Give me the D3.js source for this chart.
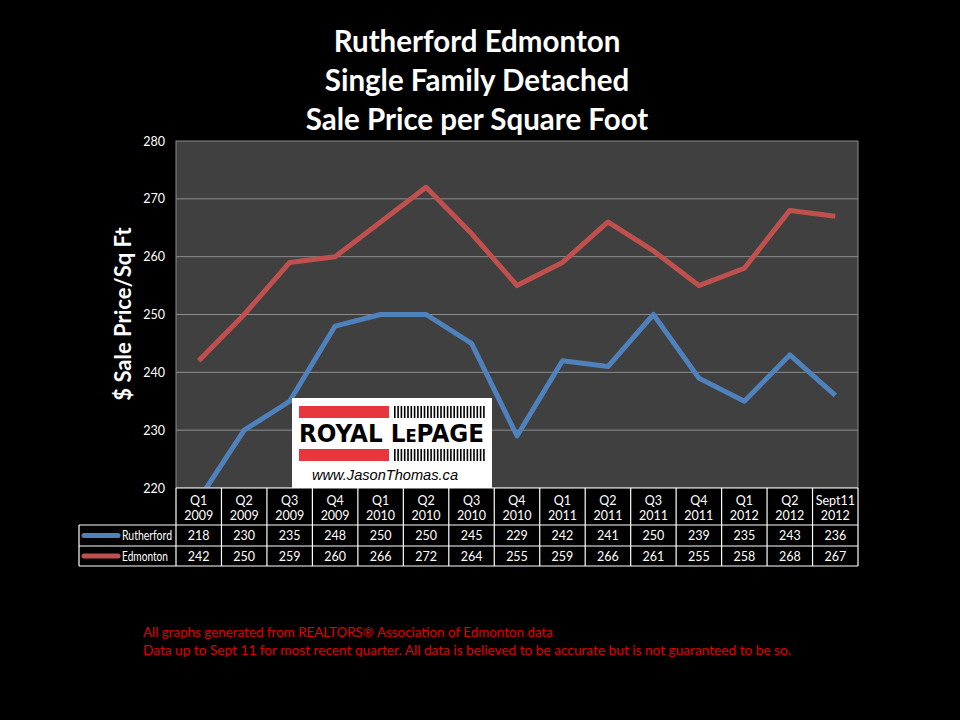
<!DOCTYPE html>
<meta charset="utf-8">
<style>
    body { margin: 0; background: #000; }
    text { font-family: Lato, "Open Sans", sans-serif; }
</style>
<svg width="960" height="720"></svg>
<script src="https://d3js.org/d3.v7.min.js"></script>
<script>

var quarters = ["Q1", "Q2", "Q3", "Q4", "Q1", "Q2", "Q3", "Q4", "Q1", "Q2", "Q3", "Q4", "Q1", "Q2", "Sept11"];
var years = ["2009", "2009", "2009", "2009", "2010", "2010", "2010", "2010", "2011", "2011", "2011", "2011", "2012", "2012", "2012"];
var rutherford = [218, 230, 235, 248, 250, 250, 245, 229, 242, 241, 250, 239, 235, 243, 236];
var edmonton = [242, 250, 259, 260, 266, 272, 264, 255, 259, 266, 261, 255, 258, 268, 267];
var yTicks = [220, 230, 240, 250, 260, 270, 280];
var titleLines = ["Rutherford Edmonton", "Single Family Detached", "Sale Price per Square Foot"];
var footLines = [
    "All graphs generated from REALTORS\u00AE Association of Edmonton data",
    "Data up to Sept 11 for most recent quarter. All data is believed to be accurate but is not guaranteed to be so."
];
var footWidths = [410, 648];

var series = [
    { name: "Rutherford", values: rutherford, color: "#4f81bd" },
    { name: "Edmonton", values: edmonton, color: "#c0504d" }
];

var svg = d3.select("svg");
svg.append("rect").attr("width", 960).attr("height", 720).attr("fill", "#000");

var plotLeft = 176, plotRight = 858, plotTop = 141, plotBottom = 488;
var cats = quarters.map(function(q, i) { return i; });

var x = d3.scaleBand().domain(cats).range([plotLeft, plotRight]);
var y = d3.scaleLinear().domain([220, 280]).range([plotBottom, plotTop]);

// title
svg.append("g").selectAll("text")
    .data(titleLines)
    .enter().append("text")
    .attr("x", 477)
    .attr("y", function(d, i) { return 52 + i * 39; })
    .attr("text-anchor", "middle")
    .attr("fill", "#fff")
    .attr("font-size", 29.5)
    .attr("font-weight", "bold")
    .text(function(d) { return d; });

// plot area
svg.append("rect")
    .attr("x", plotLeft).attr("y", plotTop)
    .attr("width", plotRight - plotLeft).attr("height", plotBottom - plotTop)
    .attr("fill", "#404040")
    .attr("stroke", "#8c8c8c");

svg.append("g").selectAll("line")
    .data(yTicks.slice(1, -1))
    .enter().append("line")
    .attr("x1", plotLeft).attr("x2", plotRight)
    .attr("y1", function(d) { return y(d); })
    .attr("y2", function(d) { return y(d); })
    .attr("stroke", "#8c8c8c");

var yAxis = svg.append("g")
    .attr("transform", "translate(" + plotLeft + ",0)")
    .call(d3.axisLeft(y).tickValues(yTicks).tickSize(0).tickPadding(11));
yAxis.select(".domain").remove();
yAxis.selectAll("text")
    .attr("fill", "#fff")
    .attr("font-size", 12.5)
    .style("font-family", "Lato, sans-serif");

svg.append("text")
    .attr("transform", "translate(131," + 314 + ") rotate(-90)")
    .attr("text-anchor", "middle")
    .attr("fill", "#fff")
    .attr("font-size", 22)
    .attr("font-weight", "bold")
    .text("$ Sale Price/Sq Ft");

// lines
svg.append("clipPath").attr("id", "plotclip")
    .append("rect")
    .attr("x", plotLeft).attr("y", plotTop)
    .attr("width", plotRight - plotLeft).attr("height", plotBottom - plotTop);

var line = d3.line()
    .x(function(d, i) { return x(i) + x.bandwidth() / 2; })
    .y(function(d) { return y(d); });

svg.append("g").attr("clip-path", "url(#plotclip)")
    .selectAll("path")
    .data(series.slice().reverse())
    .enter().append("path")
    .attr("d", function(d) { return line(d.values); })
    .attr("fill", "none")
    .attr("stroke", function(d) { return d.color; })
    .attr("stroke-width", 5)
    .attr("stroke-linejoin", "round");

// logo
var logo = svg.append("g");
logo.append("rect")
    .attr("x", 292).attr("y", 398).attr("width", 200).attr("height", 92)
    .attr("fill", "#fff");
[406, 449].forEach(function(by) {
    logo.append("rect")
        .attr("x", 299).attr("y", by).attr("width", 90).attr("height", 12)
        .attr("fill", "#e8363f");
    logo.append("g").selectAll("rect")
        .data(d3.range(0, 90, 3.3))
        .enter().append("rect")
        .attr("x", function(d) { return 394 + d; })
        .attr("y", by).attr("width", 1.6).attr("height", 12)
        .attr("fill", "#000");
});
logo.append("text")
    .attr("x", 299).attr("y", 442)
    .attr("textLength", 185).attr("lengthAdjust", "spacingAndGlyphs")
    .attr("font-size", 24).attr("font-weight", "bold")
    .style("font-family", "'DejaVu Sans', sans-serif")
    .style("font-variant", "small-caps")
    .attr("fill", "#000")
    .text("ROYAL LePAGE");
logo.append("text")
    .attr("x", 312).attr("y", 480)
    .attr("textLength", 146).attr("lengthAdjust", "spacingAndGlyphs")
    .attr("font-size", 14).attr("font-style", "italic")
    .style("font-family", "'Liberation Sans', sans-serif")
    .attr("fill", "#000")
    .text("www.JasonThomas.ca");

// data table
var rowTop = plotBottom, row1 = 525, row2 = 546, row3 = 566, tLeft = 79;
var table = svg.append("g");
table.append("rect")
    .attr("x", plotLeft).attr("y", rowTop).attr("width", plotRight - plotLeft).attr("height", row1 - rowTop)
    .attr("fill", "#000");
var grid = table.append("g").attr("stroke", "#fff").attr("stroke-width", 1.2);
grid.append("line").attr("x1", plotLeft).attr("x2", plotRight).attr("y1", rowTop).attr("y2", rowTop);
[row1, row2, row3].forEach(function(ry) {
    grid.append("line").attr("x1", tLeft).attr("x2", plotRight).attr("y1", ry).attr("y2", ry);
});
grid.append("line").attr("x1", tLeft).attr("x2", tLeft).attr("y1", row1).attr("y2", row3);
grid.selectAll("line.col")
    .data(cats.concat([cats.length]))
    .enter().append("line")
    .attr("class", "col")
    .attr("x1", function(d) { return d < cats.length ? x(d) : plotRight; })
    .attr("x2", function(d) { return d < cats.length ? x(d) : plotRight; })
    .attr("y1", rowTop).attr("y2", row3);

var cx = function(d, i) { return x(i) + x.bandwidth() / 2; };
table.append("g").selectAll("text")
    .data(quarters).enter().append("text")
    .attr("x", cx).attr("y", 505)
    .attr("text-anchor", "middle").attr("fill", "#fff").attr("font-size", 12.5)
    .text(function(d) { return d; });
table.append("g").selectAll("text")
    .data(years).enter().append("text")
    .attr("x", cx).attr("y", 520)
    .attr("text-anchor", "middle").attr("fill", "#fff").attr("font-size", 12.5)
    .text(function(d) { return d; });

series.forEach(function(s, si) {
    var ry = si === 0 ? row1 : row2;
    var rh = si === 0 ? row2 - row1 : row3 - row2;
    table.append("g").selectAll("text")
        .data(s.values).enter().append("text")
        .attr("x", cx).attr("y", ry + rh / 2 + 4.5)
        .attr("text-anchor", "middle").attr("fill", "#fff").attr("font-size", 12.5)
        .text(function(d) { return d; });
    table.append("line")
        .attr("x1", 84).attr("x2", 118)
        .attr("y1", ry + rh / 2).attr("y2", ry + rh / 2)
        .attr("stroke", s.color).attr("stroke-width", 5).attr("stroke-linecap", "round");
    table.append("text")
        .attr("x", 122).attr("y", ry + rh / 2 + 4.5)
        .attr("textLength", si === 0 ? 50 : 46).attr("lengthAdjust", "spacingAndGlyphs")
        .attr("fill", "#fff").attr("font-size", 12.5)
        .text(s.name);
});

// footer
svg.append("g").selectAll("text")
    .data(footLines).enter().append("text")
    .attr("x", 143)
    .attr("y", function(d, i) { return 637 + i * 18; })
    .attr("textLength", function(d, i) { return footWidths[i]; })
    .attr("lengthAdjust", "spacingAndGlyphs")
    .attr("fill", "#e00000")
    .attr("font-size", 13)
    .text(function(d) { return d; });

</script>
